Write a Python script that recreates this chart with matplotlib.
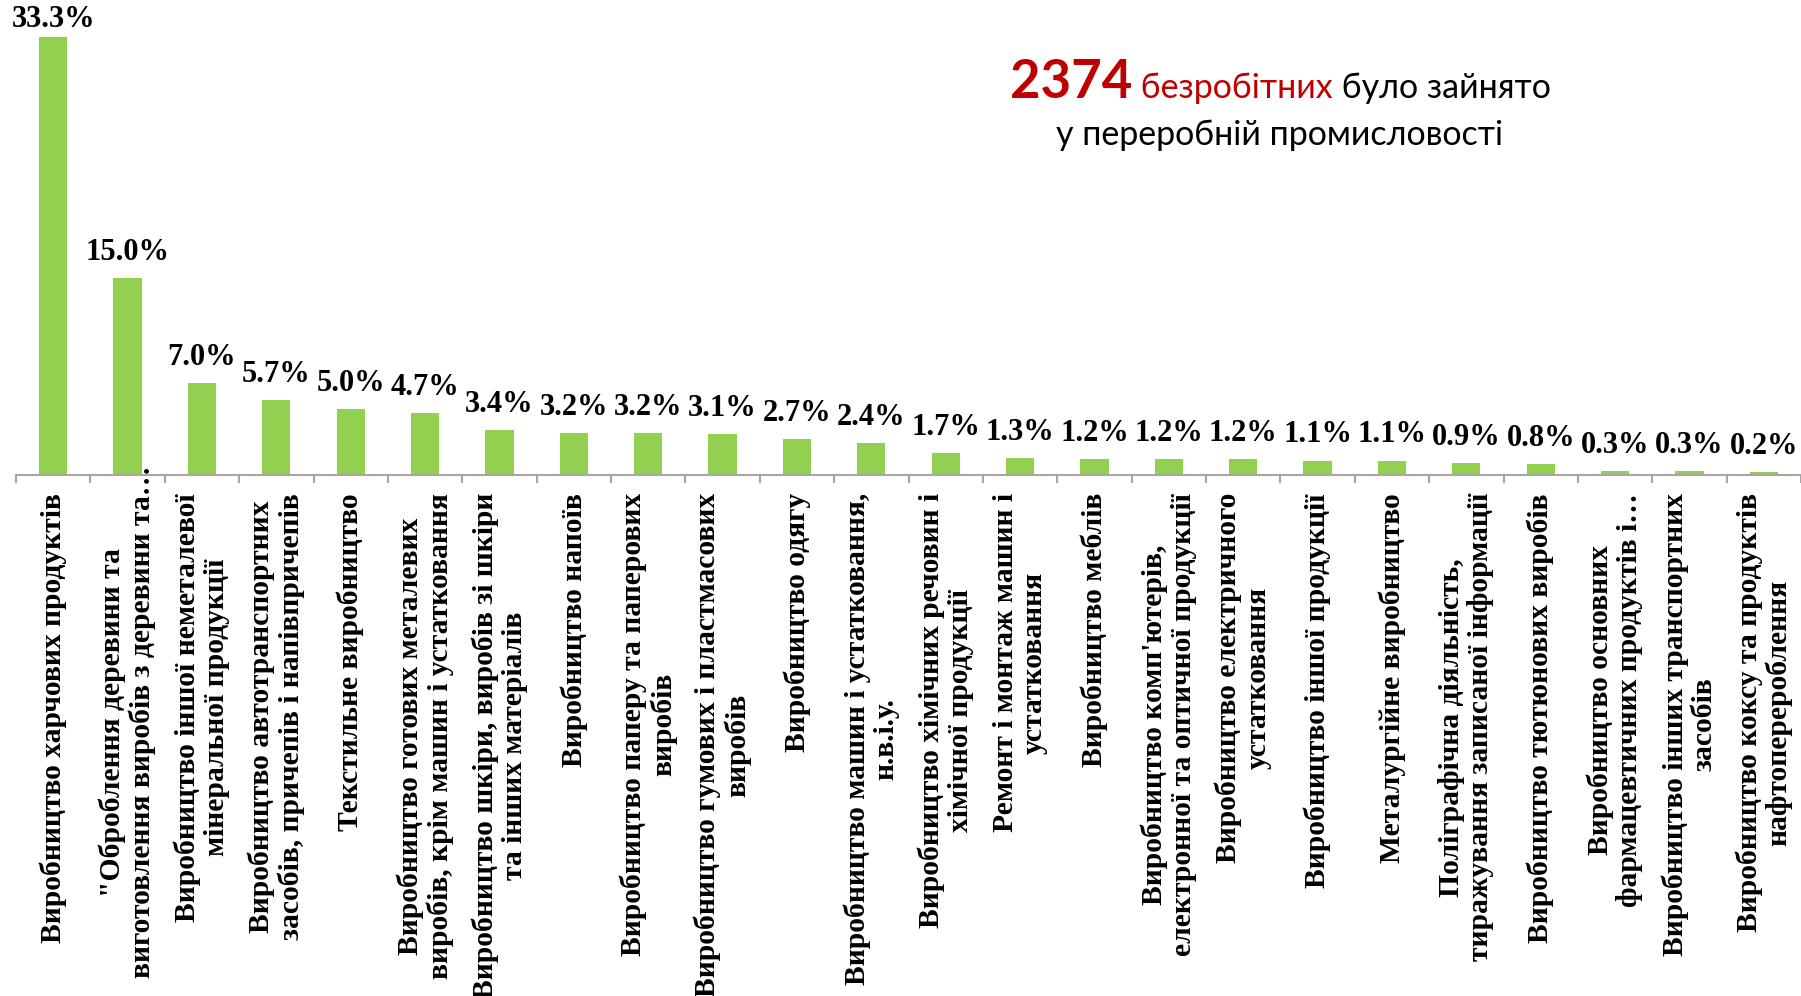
import matplotlib
matplotlib.use("Agg")
import matplotlib.pyplot as plt
import matplotlib.transforms as mtransforms
from matplotlib.offsetbox import TextArea, HPacker, AnchoredOffsetbox

categories = [
    "Виробництво харчових продуктів",
    "\"Оброблення деревини та\nвиготовлення виробів з деревини та…",
    "Виробництво іншої неметалевої\nмінеральної продукції",
    "Виробництво автотранспортних\nзасобів, причепів і напівпричепів",
    "Текстильне виробництво",
    "Виробництво готових металевих\nвиробів, крім машин і устатковання",
    "Виробництво шкіри, виробів зі шкіри\nта інших матеріалів",
    "Виробництво напоїв",
    "Виробництво паперу та паперових\nвиробів",
    "Виробництво гумових і пластмасових\nвиробів",
    "Виробництво одягу",
    "Виробництво машин і устатковання,\nн.в.і.у.",
    "Виробництво хімічних речовин і\nхімічної продукції",
    "Ремонт і монтаж машин і\nустатковання",
    "Виробництво меблів",
    "Виробництво комп'ютерів,\nелектронної та оптичної продукції",
    "Виробництво електричного\nустатковання",
    "Виробництво іншої продукції",
    "Металургійне виробництво",
    "Поліграфічна діяльність,\nтиражування записаної інформації",
    "Виробництво тютюнових виробів",
    "Виробництво основних\nфармацевтичних продуктів і…",
    "Виробництво інших транспортних\nзасобів",
    "Виробництво коксу та продуктів\nнафтоперероблення",
]
values = [33.3, 15.0, 7.0, 5.7, 5.0, 4.7, 3.4, 3.2, 3.2, 3.1, 2.7, 2.4,
          1.7, 1.3, 1.2, 1.2, 1.2, 1.1, 1.1, 0.9, 0.8, 0.3, 0.3, 0.2]

title_number = "2374"
title_red = " безробітних"
title_black = " було зайнято"
title_line2 = "у переробній промисловості"

W, H = 1801, 996
fig = plt.figure(figsize=(W / 100, H / 100), dpi=100)
ax = fig.add_axes([16 / W, 1 - 475 / H, 1 - 16 / W, 475 / H])

x = list(range(len(values)))
ax.bar(x, values, width=0.38, color="#92D050", zorder=2)
ax.set_xlim(-0.5, len(values) - 0.5)
ymax = 36.1
ax.set_ylim(0, ymax)

serif = ["Liberation Serif", "DejaVu Serif"]
for xi, v in zip(x, values):
    off = 2 if v / ymax > 0.9 else 8
    ax.annotate(f"{v:.1f}%", (xi, v), xytext=(0, off), textcoords="offset points",
                ha="center", va="bottom", fontsize=22, fontweight="bold",
                family=serif, clip_on=False)

for s in ["top", "left", "right"]:
    ax.spines[s].set_visible(False)
ax.spines["bottom"].set_color("#A6A6A6")
ax.spines["bottom"].set_linewidth(1.5)
ax.set_yticks([])

ax.set_xticks(x)
ax.set_xticklabels(categories, rotation=90, ha="center", va="top",
                   fontsize=21.3, fontweight="bold", family=serif,
                   multialignment="center", linespacing=1.1)
ax.tick_params(axis="x", which="major", length=0, pad=13)
ax.set_xticks([i - 0.5 for i in range(len(values) + 1)], minor=True)
ax.tick_params(axis="x", which="minor", length=6, width=1.5, color="#A6A6A6",
               direction="out")

# the long, truncated second label overflows upward as in the reference
for lbl in ax.get_xticklabels():
    if lbl.get_text().startswith("\""):
        lbl.set_transform(lbl.get_transform() +
                          mtransforms.ScaledTranslation(0, 0.27, fig.dpi_scale_trans))

sans = ["Lato", "DejaVu Sans"]
t1 = TextArea(title_number, textprops=dict(color="#C00000", fontsize=38,
                                           fontweight="bold", family=sans))
t2 = TextArea(title_red, textprops=dict(color="#C00000", fontsize=24.5, family=sans))
t3 = TextArea(title_black, textprops=dict(color="black", fontsize=24.5, family=sans))
line1 = HPacker(children=[t1, t2, t3], align="baseline", pad=0, sep=0)
box1 = AnchoredOffsetbox(loc="center", child=line1, pad=0, frameon=False,
                         bbox_to_anchor=(1280 / W, 1 - 82 / H),
                         bbox_transform=fig.transFigure, borderpad=0)
fig.add_artist(box1)
fig.text(1280 / W, 1 - 135 / H, title_line2, ha="center", va="center",
         fontsize=24.5, family=sans, color="black")

fig.savefig("out.png", dpi=100)
